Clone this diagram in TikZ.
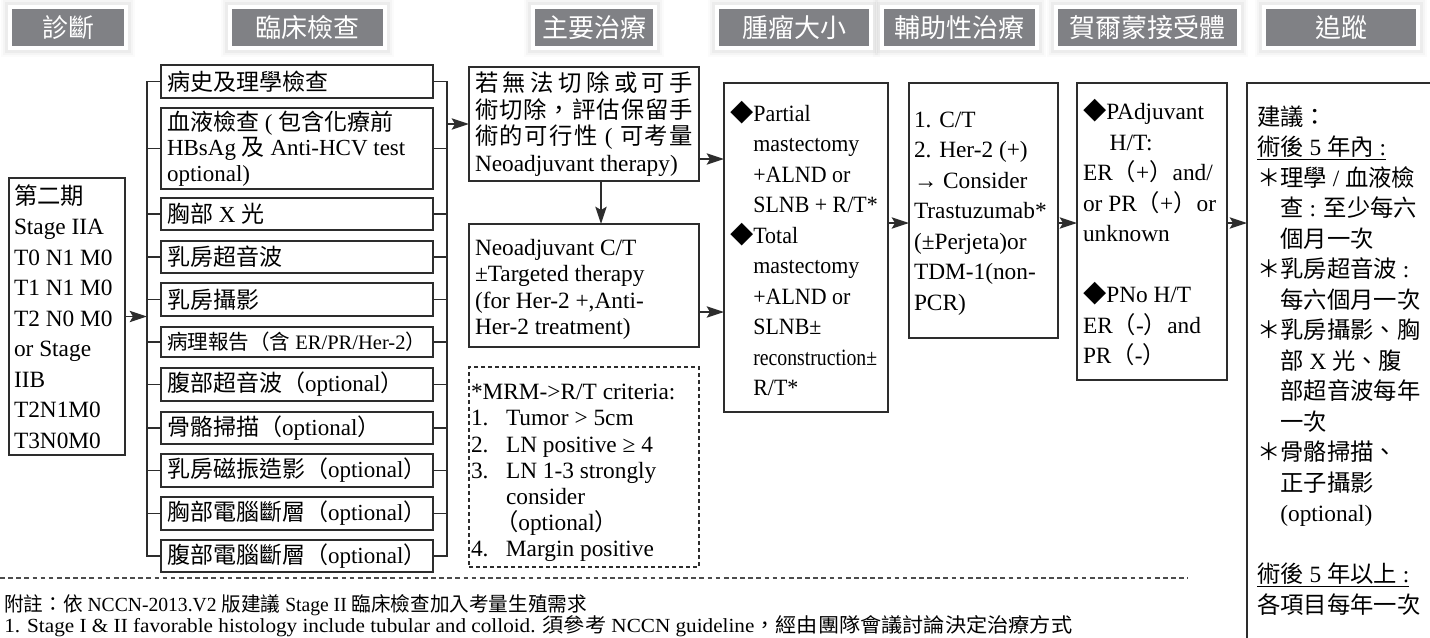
\documentclass[tikz,border=0pt]{standalone}
\usepackage{fontspec}
\usepackage{graphicx}
\setmainfont{Liberation Serif}
\newfontfamily\zhfont{Noto Sans CJK TC}
\newfontfamily\condrm[FakeStretch=0.94]{Liberation Serif}
\usetikzlibrary{arrows.meta,fit,calc}
\definecolor{hdrgray}{RGB}{128,129,133}
\definecolor{linec}{RGB}{45,45,45}
% automatic switching between Latin and CJK fonts
\chardef\cjkcls=7
\newcount\cjkn
\def\setcls#1#2#3{\cjkn=#1\relax\loop\ifnum\cjkn<#2\relax\XeTeXcharclass\cjkn=#3\relax\advance\cjkn by 1\repeat}
\setcls{"21}{"2500}{0}
\setcls{"3000}{"3040}{\cjkcls}
\setcls{"4E00}{"A000}{\cjkcls}
\setcls{"FF00}{"FFF0}{\cjkcls}
\XeTeXcharclass"25C6=\cjkcls
\def\cjkskip{}
\def\latinfam{\rmfamily}
\XeTeXinterchartoks 0 \cjkcls={\zhfont}
\XeTeXinterchartoks 4095 \cjkcls={\zhfont}
\XeTeXinterchartoks \cjkcls 0={\latinfam}
\XeTeXinterchartoks \cjkcls 4095={\latinfam}
\XeTeXinterchartoks \cjkcls \cjkcls={\cjkskip}
\AtBeginDocument{\XeTeXinterchartokenstate=1 }
\newcommand\fsz[2]{\fontsize{#1}{#2}\selectfont\lineskiplimit=-100pt\relax}
\newcommand\jl[1]{\hbox to 163.5pt{\def\cjkskip{\hfil}#1}}
\newcommand\ind{\hspace*{17.5pt}}
\newcommand\nb[1]{\makebox[26.25pt][l]{#1}}
\begin{document}
\begin{tikzpicture}[x=0.75pt,y=-0.75pt,
  box/.style={draw=linec, line width=1.1pt, inner sep=0pt, outer sep=0pt},
  dbox/.style={box, dash pattern=on 3pt off 2.25pt},
  txt/.style={inner sep=0pt, outer sep=0pt, align=left, text=black, anchor=west},
  ln/.style={draw=linec, line width=1.1pt},
  arr/.style={ln, -{Stealth[length=13pt,width=8.5pt,inset=2.5pt]}},
  hdr/.style={fill=hdrgray, draw=white, line width=3pt, inner sep=0pt,
     preaction={draw=black, draw opacity=0.015, line width=14pt},
     preaction={draw=black, draw opacity=0.025, line width=10pt},
     preaction={draw=black, draw opacity=0.035, line width=7pt}},
  htxt/.style={inner sep=0pt, text=white, font=\fsz{19.5}{22}\zhfont},
  fsA/.style={font=\fsz{17.5}{22.875}},
  fsE/.style={font=\fsz{17.25}{19.125}}]
\useasboundingbox (0,0) rectangle (1430,637);
\fill[white] (0,0) rectangle (1430,637);
\clip (0,0) rectangle (1430,637);

% ---------- headers ----------
\node[hdr, fit={(10,7) (126,48)}] (h1) {};
\node[hdr, fit={(230,7) (385,48)}] (h2) {};
\node[hdr, fit={(533,7) (655,48)}] (h3) {};
\node[hdr, fit={(717,7) (871,48)}] (h4) {};
\node[hdr, fit={(882,7) (1037,48)}] (h5) {};
\node[hdr, fit={(1056,7) (1239,48)}] (h6) {};
\node[hdr, fit={(1264,7) (1418,48)}] (h7) {};
\node[htxt] (h1t) at (h1.center) {診斷};
\node[htxt] (h2t) at (h2.center) {臨床檢查};
\node[htxt] (h3t) at (h3.center) {主要治療};
\node[htxt] (h4t) at (h4.center) {腫瘤大小};
\node[htxt] (h5t) at (h5.center) {輔助性治療};
\node[htxt] (h6t) at (h6.center) {賀爾蒙接受體};
\node[htxt] (h7t) at (h7.center) {追蹤};

% ---------- diagnosis ----------
\node[box, fit={(9,178) (125,455)}] (diag) {};
\node[txt, fsA] (diagT) at ($(diag.west)+(5,0)$) {第二期\\Stage IIA\\T0 N1 M0\\T1 N1 M0\\T2 N0 M0\\or Stage\\IIB\\T2N1M0\\T3N0M0};

% ---------- clinical exams ----------
\node[box, fit={(161,65) (433,98)}] (e1) {};
\node[box, fit={(161,108) (433,189)}] (e2) {};
\node[box, fit={(161,198) (433,230)}] (e3) {};
\node[box, fit={(161,241) (433,273)}] (e4) {};
\node[box, fit={(161,283) (433,316)}] (e5) {};
\node[box, fit={(161,327) (433,357)}] (e6) {};
\node[box, fit={(161,368) (433,401)}] (e7) {};
\node[box, fit={(161,412) (433,444)}] (e8) {};
\node[box, fit={(161,454) (433,487)}] (e9) {};
\node[box, fit={(161,497) (433,530)}] (e10) {};
\node[box, fit={(161,540) (433,572)}] (e11) {};
\node[txt, fsE] (e1t) at ($(e1.west)+(6,0)$) {病史及理學檢查};
\node[txt, fsE] (e2t) at ($(e2.west)+(6,0)$) {血液檢查 ( 包含化療前\\HBsAg 及 Anti-HCV test\\optional)};
\node[txt, fsE] (e3t) at ($(e3.west)+(6,0)$) {胸部 X 光};
\node[txt, fsE] (e4t) at ($(e4.west)+(6,0)$) {乳房超音波};
\node[txt, fsE] (e5t) at ($(e5.west)+(6,0)$) {乳房攝影};
\node[txt, font=\fsz{15.4}{18}] (e6t) at ($(e6.west)+(6,0)$) {病理報告（含 ER/PR/Her-2）};
\node[txt, fsE] (e7t) at ($(e7.west)+(6,0)$) {腹部超音波（optional）};
\node[txt, fsE] (e8t) at ($(e8.west)+(6,0)$) {骨骼掃描（optional）};
\node[txt, fsE] (e9t) at ($(e9.west)+(6,0)$) {乳房磁振造影（optional）};
\node[txt, fsE] (e10t) at ($(e10.west)+(6,0)$) {胸部電腦斷層（optional）};
\node[txt, fsE] (e11t) at ($(e11.west)+(6,0)$) {腹部電腦斷層（optional）};

\coordinate (bl) at (147,0);
\coordinate (br) at (447,0);
\draw[ln] (e1.west) -- (e1.west -| bl) |- (e11.west);
\draw[ln] (e1.east) -- (e1.east -| br) |- (e11.east);
\foreach \i in {2,...,10}{
  \draw[ln] (e\i.west) -- (e\i.west -| bl);
  \draw[ln] (e\i.east) -- (e\i.east -| br);
}
\draw[arr] (diag.east) -- (diag.east -| bl);

% ---------- primary treatment ----------
\node[box, fit={(469,67) (699,181)}] (t1) {};
\node[box, fit={(469,224) (699,347)}] (t2) {};
\node[dbox, fit={(469,367) (699,567)}] (crit) {};
\node[txt, font=\fsz{17.5}{19.875}] (t1t) at ($(t1.west)+(6,0)$)
  {\jl{若無法切除或可手}\\\jl{術切除，評估保留手}\\\jl{術的可行性\hfil{} ( \hfil{}可考量}\\Neoadjuvant therapy)};
\node[txt, font=\fsz{17.5}{19.725}] (t2t) at ($(t2.west)+(6,4)$)
  {Neoadjuvant C/T\\±Targeted therapy\\(for Her-2 +,Anti-\\Her-2 treatment)};
\node[txt, font=\fsz{17.5}{19.65}] (critt) at ($(crit.west)+(2,6)$)
  {*MRM->R/T criteria:\\\nb{1.}Tumor > 5cm\\\nb{2.}LN positive ≥ 4\\\nb{3.}LN 1-3 strongly\\\hspace*{26.25pt}consider\\\hspace*{18pt}（optional）\\\nb{4.}Margin positive};

\draw[arr] (t1.west -| br) -- (t1.west);
\draw[arr] ($(t1.south)+(17,0)$) -- ($(t2.north)+(17,0)$);

% ---------- tumour size ----------
\node[box, fit={(724,83) (888,412)}] (tumor) {};
\node[txt, font={\fsz{17.5}{22.875}\condrm\def\latinfam{\condrm}}] (tumort) at ($(tumor.west)+(6,1)$)
  {◆Partial\\\ind mastectomy\\\ind +ALND or\\\ind SLNB + R/T*\\◆Total\\\ind mastectomy\\\ind +ALND or\\\ind SLNB±\\\ind \scalebox{0.9}[1]{reconstruction±}\\\ind R/T*};

\coordinate (ya) at (0,159);
\coordinate (yb) at (0,312);
\coordinate (yc) at (0,223);
\draw[arr] (t1.east |- ya) -- (tumor.west |- ya);
\draw[arr] (t2.east |- yb) -- (tumor.west |- yb);

% ---------- adjuvant ----------
\node[box, fit={(909,83) (1058,338)}] (adj) {};
\node[txt, fsA] (adjt) at ($(adj.west)+(5,3)$)
  {1. C/T\\2. Her-2 (+)\\→ Consider\\Trastuzumab*\\(±Perjeta)or\\TDM-1(non-\\PCR)};
\draw[arr] (tumor.east |- yc) -- (adj.west |- yc);

% ---------- hormone receptor ----------
\node[box, fit={(1077,83) (1227,380)}] (horm) {};
\node[txt, fsA] (hormt) at ($(horm.west)+(6,1)$)
  {◆PAdjuvant\\\hspace*{20pt}H/T:\\ER（+）and/\\or PR（+）or\\unknown\\\mbox{}\\◆PNo H/T\\ER（-）and\\PR（-）};
\draw[arr] (adj.east |- yc) -- (horm.west |- yc);

% ---------- follow-up ----------
\node[box, fit={(1247,83) (1450,670)}] (follow) {};
\node[txt, fsA, anchor=north west] (followt) at (1257,105.5)
  {建議：\\\underline{術後 5 年內 :}\\＊理學 / 血液檢\\　查 : 至少每六\\　個月一次\\＊乳房超音波 :\\　每六個月一次\\＊乳房攝影、胸\\　部 X 光、腹\\　部超音波每年\\　一次\\＊骨骼掃描、\\　正子攝影\\　(optional)\\\mbox{}\\\underline{術後 5 年以上 :}\\各項目每年一次};
\draw[arr] (horm.east |- yc) -- (follow.west |- yc);

% ---------- footnotes ----------
\coordinate (sepL) at (0,578);
\coordinate (sepR) at (1188,578);
\draw[draw=black!70, line width=0.8pt, dash pattern=on 3.5pt off 2.6pt] (sepL) -- (sepR);
\node[inner sep=0pt, anchor=base west, font=\fsz{15}{18}] (fn1) at (4,611)
  {\resizebox{437pt}{\height}{附註：依 NCCN-2013.V2 版建議 Stage II 臨床檢查加入考量生殖需求}};
\node[inner sep=0pt, anchor=base west, font=\fsz{15}{18}] (fn2) at (4,632)
  {\resizebox{801pt}{\height}{1. Stage I \& II favorable histology include tubular and colloid. 須參考 NCCN guideline，經由團隊會議討論決定治療方式}};
\end{tikzpicture}
\end{document}
